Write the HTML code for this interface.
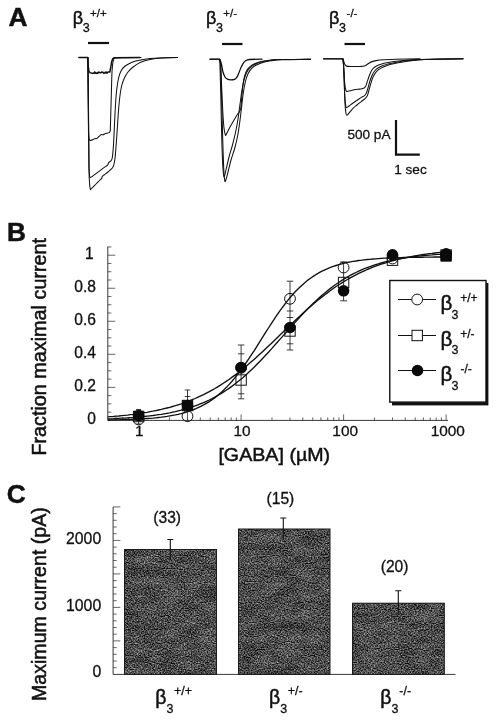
<!DOCTYPE html>
<html lang="en"><head><meta charset="utf-8"><title>Figure</title>
<style>html,body{margin:0;padding:0;background:#fff;}body{width:496px;height:720px;overflow:hidden;}svg{display:block;}text{fill:#111;font-family:"Liberation Sans",sans-serif;}</style>
</head><body>
<svg width="496" height="720" viewBox="0 0 496 720">
<defs>
<filter id="noise" x="0" y="0" width="100%" height="100%" color-interpolation-filters="sRGB"><feTurbulence type="fractalNoise" baseFrequency="0.7 0.85" numOctaves="1" seed="7" result="t1"/><feColorMatrix in="t1" type="matrix" values="1.6 0 0 0 -0.465  1.6 0 0 0 -0.465  1.6 0 0 0 -0.465  0 0 0 0 1" result="fine"/><feTurbulence type="fractalNoise" baseFrequency="0.05 0.09" numOctaves="2" seed="11" result="t2"/><feColorMatrix in="t2" type="matrix" values="0.3 0 0 0 0.35  0.3 0 0 0 0.35  0.3 0 0 0 0.35  0 0 0 0 1" result="coarse"/><feComposite in="fine" in2="coarse" operator="arithmetic" k1="0" k2="1" k3="1" k4="-0.5" result="sum"/><feColorMatrix in="sum" type="matrix" values="0.8 0 0 0 0.03  0 0.8 0 0 0.03  0 0 0.8 0 0.03  0 0 0 0 1" result="g"/><feComposite in="g" in2="SourceGraphic" operator="in"/></filter>
</defs>
<rect width="496" height="720" fill="#fff"/>
<text transform="translate(8.6,25.8) scale(1.03,1.0)" x="0" y="0" class="t" font-size="25.5" font-weight="bold" stroke="#111" stroke-width="0.5">A</text>
<text transform="translate(7.0,240.8) scale(1.03,1.0)" x="0" y="0" class="t" font-size="25.5" font-weight="bold" stroke="#111" stroke-width="0.5">B</text>
<text transform="translate(6.8,502.6) scale(1.03,1.0)" x="0" y="0" class="t" font-size="25.5" font-weight="bold" stroke="#111" stroke-width="0.5">C</text>
<g id="panelA">
<text x="72.85" y="24" class="t" font-size="18" stroke="#111" stroke-width="0.5">β</text><text x="82.75" y="31.60" class="t" font-size="12.5" stroke="#111" stroke-width="0.3">3</text><text x="90.05" y="17.00" class="t" font-size="11.5" stroke="#111" stroke-width="0.3">+/+</text>
<text x="206.10" y="24" class="t" font-size="18" stroke="#111" stroke-width="0.5">β</text><text x="216.00" y="31.60" class="t" font-size="12.5" stroke="#111" stroke-width="0.3">3</text><text x="223.30" y="17.00" class="t" font-size="11.5" stroke="#111" stroke-width="0.3">+/-</text>
<text x="329.10" y="24" class="t" font-size="18" stroke="#111" stroke-width="0.5">β</text><text x="339.00" y="31.60" class="t" font-size="12.5" stroke="#111" stroke-width="0.3">3</text><text x="346.55" y="17.00" class="t" font-size="11.5" stroke="#111" stroke-width="0.3">-/-</text>
<line x1="88" y1="43" x2="109" y2="43" stroke="#111" stroke-width="2.2"/>
<line x1="222" y1="44" x2="242.5" y2="44" stroke="#111" stroke-width="2.2"/>
<line x1="344.5" y1="44" x2="365" y2="44" stroke="#111" stroke-width="2.2"/>
<path d="M79.00,57.50 L87.60,57.50 L88.20,66.00 L89.00,71.50 L90.00,72.60 L90.50,72.90 L91.20,73.09 L91.90,73.17 L92.60,73.41 L93.30,73.08 L94.00,73.38 L94.70,71.95 L95.40,72.64 L96.10,73.41 L96.80,72.94 L97.50,73.34 L98.20,72.08 L98.90,72.65 L99.60,72.29 L100.30,72.77 L101.00,72.82 L101.70,71.92 L102.40,72.25 L103.10,72.35 L103.80,73.37 L104.50,73.13 L105.20,72.16 L105.90,73.18 L106.60,72.12 L107.30,72.89 L108.00,72.10 L108.70,71.90 L109.80,72.00 L110.60,68.00 L111.60,62.00 L112.80,58.60 L114.50,57.70 L140.00,57.60" fill="none" stroke="#111" stroke-width="1.5" stroke-linejoin="round" stroke-linecap="round"/>
<path d="M79.00,57.50 L87.80,57.50 L88.50,132.00 C88.50,132.00 88.80,138.27 89.20,139.60 C89.60,140.93 90.39,140.30 91.00,140.30 C91.61,140.30 92.36,139.87 93.00,139.60 C93.64,139.33 94.44,138.73 95.00,138.60 C95.56,138.47 96.02,138.98 96.50,138.80 C96.98,138.62 97.44,138.01 98.00,137.50 C98.56,136.99 99.44,136.06 100.00,135.60 C100.56,135.14 101.02,134.73 101.50,134.60 C101.98,134.47 102.44,134.93 103.00,134.80 C103.56,134.67 104.36,134.06 105.00,133.80 C105.64,133.54 106.31,133.39 107.00,133.20 C107.69,133.01 108.77,133.03 109.30,132.60 C109.83,132.17 110.30,130.50 110.30,130.50 L111.30,95.00 C111.30,95.00 111.76,77.12 112.00,72.00 C112.24,66.88 112.51,65.05 112.80,63.00 C113.09,60.95 113.37,60.02 113.80,59.20 C114.23,58.38 111.15,58.16 115.50,57.90 C119.85,57.64 141.00,57.60 141.00,57.60" fill="none" stroke="#111" stroke-width="1.05" stroke-linejoin="round" stroke-linecap="round"/>
<path d="M87.90,57.50 L88.90,168.00 C88.90,168.00 89.38,174.46 89.60,176.00 C89.82,177.54 90.30,177.60 90.30,177.60 C90.30,177.60 91.09,177.24 92.00,176.60 C92.91,175.96 94.72,174.56 96.00,173.60 C97.28,172.64 98.72,171.56 100.00,170.60 C101.28,169.64 102.78,168.46 104.00,167.60 C105.22,166.74 106.90,165.94 107.60,165.20 C108.30,164.46 108.14,163.48 108.40,163.00 C108.66,162.52 108.75,162.62 109.20,162.20 C109.65,161.78 110.69,161.23 111.20,160.40 C111.71,159.57 112.02,159.78 112.40,157.00 C112.78,154.22 113.25,148.60 113.60,143.00 C113.95,137.40 114.28,128.40 114.60,122.00 C114.92,115.60 115.25,108.28 115.60,103.00 C115.95,97.72 116.32,93.00 116.80,89.00 C117.28,85.00 117.93,80.88 118.60,78.00 C119.27,75.12 120.06,72.84 121.00,71.00 C121.94,69.16 123.06,67.75 124.50,66.50 C125.94,65.25 128.16,64.08 130.00,63.20 C131.84,62.32 134.08,61.56 136.00,61.00 C137.92,60.44 139.76,60.10 142.00,59.70 C144.24,59.30 147.12,58.79 150.00,58.50 C152.88,58.21 155.60,58.06 160.00,57.90 C164.40,57.74 177.50,57.50 177.50,57.50" fill="none" stroke="#111" stroke-width="1.05" stroke-linejoin="round" stroke-linecap="round"/>
<path d="M88.00,57.50 L89.20,178.00 C89.20,178.00 89.68,185.14 89.90,187.00 C90.12,188.86 90.60,189.60 90.60,189.60 C90.60,189.60 91.14,188.90 92.00,188.00 C92.86,187.10 94.72,185.28 96.00,184.00 C97.28,182.72 99.14,180.86 100.00,180.00 C100.86,179.14 101.02,179.18 101.40,178.60 C101.78,178.02 101.98,176.98 102.40,176.40 C102.82,175.82 103.10,175.70 104.00,175.00 C104.90,174.30 106.88,172.90 108.00,172.00 C109.12,171.10 110.17,170.26 111.00,169.40 C111.83,168.54 112.59,168.10 113.20,166.60 C113.81,165.10 114.35,163.14 114.80,160.00 C115.25,156.86 115.62,151.80 116.00,147.00 C116.38,142.20 116.82,135.60 117.20,130.00 C117.58,124.40 117.98,117.28 118.40,112.00 C118.82,106.72 119.29,101.16 119.80,97.00 C120.31,92.84 120.86,89.04 121.60,86.00 C122.34,82.96 123.38,80.24 124.40,78.00 C125.42,75.76 126.70,73.68 128.00,72.00 C129.30,70.32 130.90,68.84 132.50,67.50 C134.10,66.16 136.16,64.64 138.00,63.60 C139.84,62.56 142.08,61.67 144.00,61.00 C145.92,60.33 147.76,59.85 150.00,59.40 C152.24,58.95 155.12,58.47 158.00,58.20 C160.88,57.93 164.88,57.81 168.00,57.70 C171.12,57.59 177.50,57.50 177.50,57.50" fill="none" stroke="#111" stroke-width="1.05" stroke-linejoin="round" stroke-linecap="round"/>
<path d="M210.00,59.20 L219.00,59.20 C219.00,59.20 219.98,59.57 220.40,60.50 C220.82,61.43 221.18,63.16 221.60,65.00 C222.02,66.84 222.46,70.08 223.00,72.00 C223.54,73.92 224.28,75.85 225.00,77.00 C225.72,78.15 226.54,78.75 227.50,79.20 C228.46,79.65 229.88,79.78 231.00,79.80 C232.12,79.82 233.60,79.65 234.50,79.30 C235.40,78.95 235.94,78.51 236.60,77.60 C237.26,76.69 237.93,75.14 238.60,73.60 C239.27,72.06 240.10,69.60 240.80,68.00 C241.50,66.40 242.23,64.75 243.00,63.60 C243.77,62.45 244.56,61.46 245.60,60.80 C246.64,60.14 246.88,59.76 249.50,59.50 C252.12,59.24 262.00,59.20 262.00,59.20" fill="none" stroke="#111" stroke-width="1.3" stroke-linejoin="round" stroke-linecap="round"/>
<path d="M210.00,59.20 L219.60,59.20 C219.60,59.20 220.28,59.71 220.60,64.00 C220.92,68.29 221.25,78.32 221.60,86.00 C221.95,93.68 222.42,105.28 222.80,112.00 C223.18,118.72 223.58,124.32 224.00,128.00 C224.42,131.68 224.98,134.10 225.40,135.00 C225.82,135.90 225.86,134.88 226.60,133.60 C227.34,132.32 228.82,129.18 230.00,127.00 C231.18,124.82 232.88,121.92 234.00,120.00 C235.12,118.08 236.10,116.38 237.00,115.00 C237.90,113.62 238.99,112.52 239.60,111.40 C240.21,110.28 240.45,110.30 240.80,108.00 C241.15,105.70 241.45,100.68 241.80,97.00 C242.15,93.32 242.55,88.36 243.00,85.00 C243.45,81.64 243.96,78.40 244.60,76.00 C245.24,73.60 246.04,71.57 247.00,70.00 C247.96,68.43 249.32,67.22 250.60,66.20 C251.88,65.18 253.34,64.34 255.00,63.60 C256.66,62.86 258.92,62.11 261.00,61.60 C263.08,61.09 265.28,60.72 268.00,60.40 C270.72,60.08 271.20,59.79 278.00,59.60 C284.80,59.41 310.50,59.20 310.50,59.20" fill="none" stroke="#111" stroke-width="1.05" stroke-linejoin="round" stroke-linecap="round"/>
<path d="M219.20,59.20 C219.20,59.20 219.73,59.47 220.00,66.00 C220.27,72.53 220.61,88.16 220.90,100.00 C221.19,111.84 221.50,129.44 221.80,140.00 C222.10,150.56 222.48,160.21 222.80,166.00 C223.12,171.79 223.50,174.70 223.80,176.20 C224.10,177.70 224.32,176.55 224.70,175.40 C225.08,174.25 225.51,171.94 226.20,169.00 C226.89,166.06 228.04,160.68 229.00,157.00 C229.96,153.32 231.18,149.84 232.20,146.00 C233.22,142.16 234.47,137.32 235.40,133.00 C236.33,128.68 237.28,123.48 238.00,119.00 C238.72,114.52 239.29,109.48 239.90,105.00 C240.51,100.52 241.16,94.94 241.80,91.00 C242.44,87.06 243.13,83.34 243.90,80.40 C244.67,77.46 245.59,74.65 246.60,72.60 C247.61,70.55 248.82,68.94 250.20,67.60 C251.58,66.26 253.31,65.13 255.20,64.20 C257.09,63.27 259.63,62.41 262.00,61.80 C264.37,61.19 266.80,60.75 270.00,60.40 C273.20,60.05 275.52,59.79 282.00,59.60 C288.48,59.41 310.50,59.20 310.50,59.20" fill="none" stroke="#111" stroke-width="1.05" stroke-linejoin="round" stroke-linecap="round"/>
<path d="M219.70,59.20 C219.70,59.20 220.38,59.47 220.70,66.00 C221.02,72.53 221.36,87.84 221.70,100.00 C222.04,112.16 222.46,130.80 222.80,142.00 C223.14,153.20 223.48,163.79 223.80,170.00 C224.12,176.21 224.48,179.17 224.80,180.80 C225.12,182.43 225.32,181.45 225.80,180.20 C226.28,178.95 226.97,176.23 227.80,173.00 C228.63,169.77 229.88,164.00 231.00,160.00 C232.12,156.00 233.73,151.92 234.80,148.00 C235.87,144.08 236.88,139.82 237.70,135.50 C238.52,131.18 239.28,125.56 239.90,121.00 C240.52,116.44 241.06,111.48 241.60,107.00 C242.14,102.52 242.71,97.00 243.30,93.00 C243.89,89.00 244.56,85.04 245.30,82.00 C246.04,78.96 246.91,76.14 247.90,74.00 C248.89,71.86 250.16,70.04 251.50,68.60 C252.84,67.16 254.48,65.99 256.30,65.00 C258.12,64.01 260.58,63.07 262.90,62.40 C265.22,61.73 267.74,61.22 270.80,60.80 C273.86,60.38 275.65,60.06 282.00,59.80 C288.35,59.54 310.50,59.20 310.50,59.20" fill="none" stroke="#111" stroke-width="1.05" stroke-linejoin="round" stroke-linecap="round"/>
<path d="M323.50,58.80 L342.40,58.80 C342.40,58.80 343.05,59.67 343.40,60.50 C343.75,61.33 344.18,63.15 344.60,64.00 C345.02,64.85 345.46,65.42 346.00,65.80 C346.54,66.18 347.04,66.29 348.00,66.40 C348.96,66.51 350.40,66.48 352.00,66.50 C353.60,66.52 356.24,66.53 358.00,66.50 C359.76,66.47 361.72,66.51 363.00,66.30 C364.28,66.09 365.04,65.70 366.00,65.20 C366.96,64.70 368.04,63.78 369.00,63.20 C369.96,62.62 370.88,62.02 372.00,61.60 C373.12,61.18 374.08,60.89 376.00,60.60 C377.92,60.31 380.80,60.02 384.00,59.80 C387.20,59.58 390.24,59.34 396.00,59.20 C401.76,59.06 420.00,58.90 420.00,58.90" fill="none" stroke="#111" stroke-width="1.15" stroke-linejoin="round" stroke-linecap="round"/>
<path d="M323.50,58.80 L342.80,58.80 C342.80,58.80 343.31,62.29 343.60,66.00 C343.89,69.71 344.25,78.16 344.60,82.00 C344.95,85.84 345.42,88.50 345.80,90.00 C346.18,91.50 346.33,91.27 347.00,91.40 C347.67,91.53 348.88,91.06 350.00,90.80 C351.12,90.54 352.72,90.06 354.00,89.80 C355.28,89.54 356.88,89.33 358.00,89.20 C359.12,89.07 360.04,89.19 361.00,89.00 C361.96,88.81 363.26,88.38 364.00,88.00 C364.74,87.62 365.12,87.48 365.60,86.60 C366.08,85.72 366.49,84.04 367.00,82.50 C367.51,80.96 368.19,78.68 368.80,77.00 C369.41,75.32 370.13,73.34 370.80,72.00 C371.47,70.66 372.09,69.56 373.00,68.60 C373.91,67.64 375.22,66.70 376.50,66.00 C377.78,65.30 379.16,64.74 381.00,64.20 C382.84,63.66 385.60,63.06 388.00,62.60 C390.40,62.14 393.12,61.68 396.00,61.30 C398.88,60.92 402.16,60.50 406.00,60.20 C409.84,59.90 410.88,59.62 420.00,59.40 C429.12,59.18 463.00,58.80 463.00,58.80" fill="none" stroke="#111" stroke-width="1.05" stroke-linejoin="round" stroke-linecap="round"/>
<path d="M343.00,58.80 C343.00,58.80 343.51,64.05 343.80,70.00 C344.09,75.95 344.48,90.24 344.80,96.00 C345.12,101.76 345.51,104.14 345.80,106.00 C346.09,107.86 346.09,107.60 346.60,107.60 C347.11,107.60 347.98,106.74 349.00,106.00 C350.02,105.26 351.64,103.96 353.00,103.00 C354.36,102.04 356.22,100.86 357.50,100.00 C358.78,99.14 359.86,98.30 361.00,97.60 C362.14,96.90 363.74,96.34 364.60,95.60 C365.46,94.86 365.86,94.22 366.40,93.00 C366.94,91.78 367.46,89.84 368.00,88.00 C368.54,86.16 369.16,83.50 369.80,81.50 C370.44,79.50 371.23,77.18 372.00,75.50 C372.77,73.82 373.64,72.20 374.60,71.00 C375.56,69.80 376.66,68.86 378.00,68.00 C379.34,67.14 381.24,66.27 383.00,65.60 C384.76,64.93 386.76,64.34 389.00,63.80 C391.24,63.26 393.96,62.71 397.00,62.20 C400.04,61.69 403.68,61.05 408.00,60.60 C412.32,60.15 415.20,59.69 424.00,59.40 C432.80,59.11 463.00,58.80 463.00,58.80" fill="none" stroke="#111" stroke-width="1.05" stroke-linejoin="round" stroke-linecap="round"/>
<path d="M343.10,58.80 C343.10,58.80 343.61,65.09 343.90,72.00 C344.19,78.91 344.58,95.44 344.90,102.00 C345.22,108.56 345.60,110.89 345.90,113.00 C346.20,115.11 346.37,115.10 346.80,115.20 C347.23,115.30 347.69,114.62 348.60,113.60 C349.51,112.58 351.16,110.18 352.50,108.80 C353.84,107.42 355.64,106.12 357.00,105.00 C358.36,103.88 359.72,102.82 361.00,101.80 C362.28,100.78 363.98,99.59 365.00,98.60 C366.02,97.61 366.76,96.98 367.40,95.60 C368.04,94.22 368.46,91.94 369.00,90.00 C369.54,88.06 370.16,85.58 370.80,83.50 C371.44,81.42 372.23,78.74 373.00,77.00 C373.77,75.26 374.64,73.82 375.60,72.60 C376.56,71.38 377.66,70.33 379.00,69.40 C380.34,68.47 382.24,67.57 384.00,66.80 C385.76,66.03 387.76,65.24 390.00,64.60 C392.24,63.96 394.96,63.38 398.00,62.80 C401.04,62.22 404.68,61.51 409.00,61.00 C413.32,60.49 416.36,59.95 425.00,59.60 C433.64,59.25 463.00,58.80 463.00,58.80" fill="none" stroke="#111" stroke-width="1.05" stroke-linejoin="round" stroke-linecap="round"/>
<path d="M396,120 V154.6 H419.8" fill="none" stroke="#111" stroke-width="2.2"/>
<text x="347.4" y="139.2" class="t" font-size="13.6" stroke="#111" stroke-width="0.3">500 pA</text>
<text x="394.2" y="174.4" class="t" font-size="13.6" stroke="#111" stroke-width="0.3">1 sec</text>
</g>
<g id="panelB">
<path d="M107.8,246.5 V420.4 H448" fill="none" stroke="#222" stroke-width="0.9"/>
<path d="M107.8,412.14h3.6M107.8,403.88h3.6M107.8,395.62h3.6M107.8,387.36h7.5M107.8,379.10h3.6M107.8,370.84h3.6M107.8,362.58h3.6M107.8,354.32h7.5M107.8,346.06h3.6M107.8,337.80h3.6M107.8,329.54h3.6M107.8,321.28h7.5M107.8,313.02h3.6M107.8,304.76h3.6M107.8,296.50h3.6M107.8,288.24h7.5M107.8,279.98h3.6M107.8,271.72h3.6M107.8,263.46h3.6M107.8,255.20h7.5M107.8,246.94h3.6" stroke="#333" stroke-width="0.75" fill="none"/>
<text x="93.8" y="258.6" class="t" font-size="15.6" text-anchor="end" stroke="#111" stroke-width="0.3">1</text>
<text x="96.0" y="291.6" class="t" font-size="15.6" text-anchor="end" stroke="#111" stroke-width="0.3">0.8</text>
<text x="96.0" y="324.7" class="t" font-size="15.6" text-anchor="end" stroke="#111" stroke-width="0.3">0.6</text>
<text x="96.0" y="357.7" class="t" font-size="15.6" text-anchor="end" stroke="#111" stroke-width="0.3">0.4</text>
<text x="96.0" y="390.8" class="t" font-size="15.6" text-anchor="end" stroke="#111" stroke-width="0.3">0.2</text>
<text x="96.0" y="423.8" class="t" font-size="15.6" text-anchor="end" stroke="#111" stroke-width="0.3">0</text>
<path d="M115.86,420.4v-3M122.72,420.4v-3M128.67,420.4v-3M133.91,420.4v-3M138.60,420.4v-6M169.46,420.4v-3M187.50,420.4v-3M200.31,420.4v-3M210.24,420.4v-3M218.36,420.4v-3M225.22,420.4v-3M231.17,420.4v-3M236.41,420.4v-3M241.10,420.4v-6M271.96,420.4v-3M290.00,420.4v-3M302.81,420.4v-3M312.74,420.4v-3M320.86,420.4v-3M327.72,420.4v-3M333.67,420.4v-3M338.91,420.4v-3M343.60,420.4v-6M374.46,420.4v-3M392.50,420.4v-3M405.31,420.4v-3M415.24,420.4v-3M423.36,420.4v-3M430.22,420.4v-3M436.17,420.4v-3M441.41,420.4v-3M446.10,420.4v-6" stroke="#333" stroke-width="0.75" fill="none"/>
<text x="139.4" y="436.4" class="t" font-size="15.4" text-anchor="middle" stroke="#111" stroke-width="0.3">1</text>
<text x="242.1" y="436.4" class="t" font-size="15.4" text-anchor="middle" stroke="#111" stroke-width="0.3">10</text>
<text x="345.2" y="436.4" class="t" font-size="15.4" text-anchor="middle" stroke="#111" stroke-width="0.3">100</text>
<text x="447.8" y="436.4" class="t" font-size="15.4" text-anchor="middle" stroke="#111" stroke-width="0.3">1000</text>
<text transform="translate(218.4,461.0) scale(1.024,1)" class="t" font-size="19.2" stroke="#111" stroke-width="0.5">[GABA] (µM)</text>
<text transform="translate(46,455.6) rotate(-90)" class="t" font-size="19.8" stroke="#111" stroke-width="0.5">Fraction maximal current</text>
<path d="M107.7,420.0 L110.6,419.9 L113.4,419.9 L116.2,419.8 L119.0,419.8 L121.8,419.7 L124.7,419.6 L127.5,419.5 L130.3,419.4 L133.1,419.3 L135.9,419.2 L138.8,419.0 L141.6,418.9 L144.4,418.7 L147.2,418.5 L150.0,418.3 L152.9,418.1 L155.7,417.8 L158.5,417.5 L161.3,417.2 L164.1,416.8 L167.0,416.4 L169.8,415.9 L172.6,415.4 L175.4,414.9 L178.2,414.3 L181.1,413.6 L183.9,412.8 L186.7,412.0 L189.5,411.1 L192.3,410.1 L195.2,409.0 L198.0,407.7 L200.8,406.4 L203.6,404.9 L206.4,403.3 L209.3,401.6 L212.1,399.7 L214.9,397.6 L217.7,395.4 L220.5,393.0 L223.3,390.4 L226.2,387.6 L229.0,384.6 L231.8,381.5 L234.6,378.1 L237.4,374.6 L240.3,370.9 L243.1,367.0 L245.9,363.0 L248.7,358.9 L251.5,354.6 L254.4,350.3 L257.2,345.9 L260.0,341.4 L262.8,336.9 L265.6,332.4 L268.5,328.0 L271.3,323.6 L274.1,319.4 L276.9,315.2 L279.7,311.1 L282.6,307.2 L285.4,303.5 L288.2,299.9 L291.0,296.5 L293.8,293.3 L296.7,290.3 L299.5,287.5 L302.3,284.9 L305.1,282.4 L307.9,280.1 L310.8,278.0 L313.6,276.1 L316.4,274.3 L319.2,272.7 L322.0,271.2 L324.9,269.8 L327.7,268.6 L330.5,267.4 L333.3,266.4 L336.1,265.5 L339.0,264.6 L341.8,263.8 L344.6,263.1 L347.4,262.5 L350.2,261.9 L353.1,261.4 L355.9,261.0 L358.7,260.5 L361.5,260.2 L364.3,259.8 L367.2,259.5 L370.0,259.3 L372.8,259.0 L375.6,258.8 L378.4,258.6 L381.2,258.4 L384.1,258.2 L386.9,258.1 L389.7,258.0 L392.5,257.9 L395.3,257.8 L398.2,257.7 L401.0,257.6 L403.8,257.5 L406.6,257.4 L409.4,257.4 L412.3,257.3 L415.1,257.3 L417.9,257.2 L420.7,257.2 L423.5,257.2 L426.4,257.1 L429.2,257.1 L432.0,257.1 L434.8,257.0 L437.6,257.0 L440.5,257.0 L443.3,257.0 L446.1,257.0" fill="none" stroke="#111" stroke-width="1.35" stroke-linejoin="round"/>
<path d="M107.7,418.9 L110.6,418.8 L113.4,418.7 L116.2,418.5 L119.0,418.4 L121.8,418.2 L124.7,418.1 L127.5,417.9 L130.3,417.7 L133.1,417.5 L135.9,417.2 L138.8,417.0 L141.6,416.7 L144.4,416.5 L147.2,416.1 L150.0,415.8 L152.9,415.5 L155.7,415.1 L158.5,414.7 L161.3,414.3 L164.1,413.8 L167.0,413.3 L169.8,412.8 L172.6,412.2 L175.4,411.6 L178.2,410.9 L181.1,410.2 L183.9,409.4 L186.7,408.6 L189.5,407.8 L192.3,406.9 L195.2,405.9 L198.0,404.8 L200.8,403.7 L203.6,402.6 L206.4,401.3 L209.3,400.0 L212.1,398.6 L214.9,397.1 L217.7,395.5 L220.5,393.9 L223.3,392.1 L226.2,390.3 L229.0,388.4 L231.8,386.4 L234.6,384.2 L237.4,382.0 L240.3,379.7 L243.1,377.4 L245.9,374.9 L248.7,372.3 L251.5,369.7 L254.4,366.9 L257.2,364.1 L260.0,361.2 L262.8,358.3 L265.6,355.3 L268.5,352.2 L271.3,349.1 L274.1,345.9 L276.9,342.8 L279.7,339.6 L282.6,336.4 L285.4,333.2 L288.2,330.0 L291.0,326.8 L293.8,323.7 L296.7,320.6 L299.5,317.5 L302.3,314.5 L305.1,311.5 L307.9,308.6 L310.8,305.8 L313.6,303.0 L316.4,300.4 L319.2,297.8 L322.0,295.3 L324.9,292.9 L327.7,290.6 L330.5,288.4 L333.3,286.2 L336.1,284.2 L339.0,282.3 L341.8,280.4 L344.6,278.7 L347.4,277.0 L350.2,275.4 L353.1,273.9 L355.9,272.5 L358.7,271.2 L361.5,269.9 L364.3,268.7 L367.2,267.6 L370.0,266.6 L372.8,265.6 L375.6,264.6 L378.4,263.8 L381.2,263.0 L384.1,262.2 L386.9,261.5 L389.7,260.8 L392.5,260.2 L395.3,259.6 L398.2,259.1 L401.0,258.6 L403.8,258.1 L406.6,257.7 L409.4,257.3 L412.3,256.9 L415.1,256.5 L417.9,256.2 L420.7,255.9 L423.5,255.6 L426.4,255.3 L429.2,255.1 L432.0,254.9 L434.8,254.6 L437.6,254.4 L440.5,254.3 L443.3,254.1 L446.1,253.9" fill="none" stroke="#111" stroke-width="1.35" stroke-linejoin="round"/>
<path d="M107.7,416.9 L110.6,416.7 L113.4,416.5 L116.2,416.2 L119.0,416.0 L121.8,415.7 L124.7,415.4 L127.5,415.1 L130.3,414.7 L133.1,414.4 L135.9,414.0 L138.8,413.6 L141.6,413.2 L144.4,412.7 L147.2,412.3 L150.0,411.7 L152.9,411.2 L155.7,410.6 L158.5,410.0 L161.3,409.4 L164.1,408.7 L167.0,408.0 L169.8,407.3 L172.6,406.5 L175.4,405.7 L178.2,404.8 L181.1,403.9 L183.9,402.9 L186.7,401.9 L189.5,400.8 L192.3,399.7 L195.2,398.5 L198.0,397.2 L200.8,395.9 L203.6,394.6 L206.4,393.2 L209.3,391.7 L212.1,390.1 L214.9,388.5 L217.7,386.8 L220.5,385.1 L223.3,383.3 L226.2,381.4 L229.0,379.5 L231.8,377.4 L234.6,375.4 L237.4,373.2 L240.3,371.0 L243.1,368.8 L245.9,366.4 L248.7,364.1 L251.5,361.6 L254.4,359.2 L257.2,356.6 L260.0,354.1 L262.8,351.5 L265.6,348.8 L268.5,346.1 L271.3,343.5 L274.1,340.7 L276.9,338.0 L279.7,335.3 L282.6,332.6 L285.4,329.8 L288.2,327.1 L291.0,324.4 L293.8,321.7 L296.7,319.0 L299.5,316.4 L302.3,313.8 L305.1,311.2 L307.9,308.7 L310.8,306.3 L313.6,303.8 L316.4,301.5 L319.2,299.1 L322.0,296.9 L324.9,294.7 L327.7,292.6 L330.5,290.5 L333.3,288.5 L336.1,286.5 L339.0,284.7 L341.8,282.9 L344.6,281.1 L347.4,279.5 L350.2,277.9 L353.1,276.3 L355.9,274.8 L358.7,273.4 L361.5,272.1 L364.3,270.8 L367.2,269.5 L370.0,268.4 L372.8,267.2 L375.6,266.2 L378.4,265.2 L381.2,264.2 L384.1,263.3 L386.9,262.4 L389.7,261.6 L392.5,260.8 L395.3,260.1 L398.2,259.3 L401.0,258.7 L403.8,258.1 L406.6,257.5 L409.4,256.9 L412.3,256.4 L415.1,255.9 L417.9,255.4 L420.7,254.9 L423.5,254.5 L426.4,254.1 L429.2,253.7 L432.0,253.4 L434.8,253.0 L437.6,252.7 L440.5,252.4 L443.3,252.2 L446.1,251.9" fill="none" stroke="#111" stroke-width="1.35" stroke-linejoin="round"/>
<path d="M138.60,409.50V424.00M136.10,409.50h5M136.10,424.00h5" stroke="#1a1a1a" stroke-width="0.85" fill="none"/>
<path d="M187.50,390.00V410.00M184.75,390.00h5.5M184.75,410.00h5.5M184.75,396.50h5.5" stroke="#1a1a1a" stroke-width="0.85" fill="none"/>
<path d="M187.50,410V421.5" stroke="#333" stroke-width="0.8"/>
<path d="M241.10,345.00V398.80M237.85,345.00h6.5M237.85,398.80h6.5M237.85,353.80h6.5M237.85,393.80h6.5" stroke="#1a1a1a" stroke-width="0.85" fill="none"/>
<path d="M290.00,281.20V350.00M286.75,281.20h6.5M286.75,350.00h6.5M286.75,311.00h6.5M286.75,317.50h6.5M286.75,343.80h6.5" stroke="#1a1a1a" stroke-width="0.85" fill="none"/>
<path d="M343.60,262.00V300.80M340.10,262.00h7M340.10,300.80h7" stroke="#1a1a1a" stroke-width="0.85" fill="none"/>
<circle cx="138.60" cy="419.50" r="5.4" fill="none" stroke="#111" stroke-width="1"/>
<circle cx="187.50" cy="416.20" r="5.4" fill="none" stroke="#111" stroke-width="1"/>
<circle cx="241.10" cy="367.80" r="5.4" fill="none" stroke="#111" stroke-width="1"/>
<circle cx="290.00" cy="298.80" r="5.4" fill="none" stroke="#111" stroke-width="1"/>
<circle cx="343.60" cy="267.50" r="5.4" fill="none" stroke="#111" stroke-width="1"/>
<circle cx="392.50" cy="258.50" r="5.4" fill="none" stroke="#111" stroke-width="1"/>
<circle cx="446.10" cy="255.00" r="5.4" fill="none" stroke="#111" stroke-width="1"/>
<rect x="133.40" y="411.30" width="10.4" height="10.4" fill="none" stroke="#111" stroke-width="1"/>
<rect x="182.30" y="400.30" width="10.4" height="10.4" fill="none" stroke="#111" stroke-width="1"/>
<rect x="235.90" y="374.80" width="10.4" height="10.4" fill="none" stroke="#111" stroke-width="1"/>
<rect x="284.80" y="325.80" width="10.4" height="10.4" fill="none" stroke="#111" stroke-width="1"/>
<rect x="338.40" y="277.30" width="10.4" height="10.4" fill="none" stroke="#111" stroke-width="1"/>
<rect x="387.30" y="255.00" width="10.4" height="10.4" fill="none" stroke="#111" stroke-width="1"/>
<rect x="440.90" y="249.80" width="10.4" height="10.4" fill="none" stroke="#111" stroke-width="1"/>
<circle cx="138.60" cy="415.50" r="5.8" fill="#0a0a0a"/>
<circle cx="187.50" cy="405.50" r="5.8" fill="#0a0a0a"/>
<circle cx="241.10" cy="367.50" r="5.8" fill="#0a0a0a"/>
<circle cx="290.00" cy="327.50" r="5.8" fill="#0a0a0a"/>
<circle cx="343.60" cy="290.80" r="5.8" fill="#0a0a0a"/>
<circle cx="392.50" cy="254.80" r="5.8" fill="#0a0a0a"/>
<circle cx="446.10" cy="255.00" r="5.8" fill="#0a0a0a"/>
<rect x="182.30" y="400.30" width="10.4" height="10.4" fill="#0a0a0a"/>
<rect x="134.00" y="410.90" width="9.2" height="9.2" fill="#0a0a0a"/>
<rect x="440.60" y="250.70" width="11.0" height="11.0" fill="#0a0a0a"/>
<circle cx="446.10" cy="253.60" r="5.6" fill="#0a0a0a"/>
<rect x="392" y="283" width="96.4" height="122.4" fill="#111"/>
<rect x="389.8" y="280.5" width="96.2" height="121.6" fill="#fff" stroke="#111" stroke-width="1.4"/>
<line x1="398" y1="299.5" x2="436" y2="299.5" stroke="#111" stroke-width="1"/>
<line x1="398" y1="335.5" x2="436" y2="335.5" stroke="#111" stroke-width="1"/>
<line x1="398" y1="370.5" x2="436" y2="370.5" stroke="#111" stroke-width="1"/>
<circle cx="417.2" cy="299.5" r="5.4" fill="#fff" stroke="#111" stroke-width="1"/>
<rect x="412" y="330.3" width="10.4" height="10.4" fill="#fff" stroke="#111" stroke-width="1"/>
<circle cx="417.5" cy="370.5" r="5.8" fill="#0a0a0a"/>
<text x="440.48" y="310.4" class="t" font-size="20.5" stroke="#111" stroke-width="0.5">β</text><text x="451.60" y="318.70" class="t" font-size="12.5" stroke="#111" stroke-width="0.3">3</text><text x="460.20" y="302.10" class="t" font-size="12" stroke="#111" stroke-width="0.3">+/+</text>
<text x="440.48" y="345.9" class="t" font-size="20.5" stroke="#111" stroke-width="0.5">β</text><text x="451.60" y="354.20" class="t" font-size="12.5" stroke="#111" stroke-width="0.3">3</text><text x="460.20" y="337.60" class="t" font-size="12" stroke="#111" stroke-width="0.3">+/-</text>
<text x="440.48" y="381.4" class="t" font-size="20.5" stroke="#111" stroke-width="0.5">β</text><text x="451.60" y="389.70" class="t" font-size="12.5" stroke="#111" stroke-width="0.3">3</text><text x="460.45" y="373.10" class="t" font-size="12" stroke="#111" stroke-width="0.3">-/-</text>
</g>
<g id="panelC">
<path d="M113.1,507 V674.4 H455.5" fill="none" stroke="#222" stroke-width="0.9"/>
<path d="M113.1,667.70h3.6M113.1,661.00h3.6M113.1,654.30h3.6M113.1,647.60h3.6M113.1,640.90h7.2M113.1,634.20h3.6M113.1,627.50h3.6M113.1,620.80h3.6M113.1,614.10h3.6M113.1,607.40h7.2M113.1,600.70h3.6M113.1,594.00h3.6M113.1,587.30h3.6M113.1,580.60h3.6M113.1,573.90h7.2M113.1,567.20h3.6M113.1,560.50h3.6M113.1,553.80h3.6M113.1,547.10h3.6M113.1,540.40h7.2M113.1,533.70h3.6M113.1,527.00h3.6M113.1,520.30h3.6M113.1,513.60h3.6M113.1,506.90h7.2" stroke="#333" stroke-width="0.75" fill="none"/>
<text x="101.2" y="677.3" class="t" font-size="15.8" text-anchor="end" stroke="#111" stroke-width="0.3">0</text>
<text x="101.2" y="611.2" class="t" font-size="15.8" text-anchor="end" stroke="#111" stroke-width="0.3">1000</text>
<text x="101.2" y="544.2" class="t" font-size="15.8" text-anchor="end" stroke="#111" stroke-width="0.3">2000</text>
<text transform="translate(46.3,701) rotate(-90)" class="t" font-size="19.6" stroke="#111" stroke-width="0.5">Maximum current (pA)</text>
<rect x="124.5" y="549.5" width="92.0" height="124.9" fill="#555"/>
<rect x="124.5" y="549.5" width="92.0" height="124.9" fill="#555" filter="url(#noise)"/>
<rect x="124.5" y="549.5" width="92.0" height="124.9" fill="none" stroke="#1c1c1c" stroke-width="1"/>
<path d="M170.3,539.5V560M167.3,539.5h6" stroke="#111" stroke-width="1.1" fill="none"/>
<text x="167.2" y="522.8" class="t" font-size="15.6" text-anchor="middle" stroke="#111" stroke-width="0.3">(33)</text>
<rect x="238.5" y="529" width="91.5" height="145.4" fill="#555"/>
<rect x="238.5" y="529" width="91.5" height="145.4" fill="#555" filter="url(#noise)"/>
<rect x="238.5" y="529" width="91.5" height="145.4" fill="none" stroke="#1c1c1c" stroke-width="1"/>
<path d="M283.3,518V539.5M280.3,518h6" stroke="#111" stroke-width="1.1" fill="none"/>
<text x="280.4" y="503.6" class="t" font-size="15.6" text-anchor="middle" stroke="#111" stroke-width="0.3">(15)</text>
<rect x="352.5" y="603.2" width="91.80000000000001" height="71.2" fill="#555"/>
<rect x="352.5" y="603.2" width="91.80000000000001" height="71.2" fill="#555" filter="url(#noise)"/>
<rect x="352.5" y="603.2" width="91.80000000000001" height="71.2" fill="none" stroke="#1c1c1c" stroke-width="1"/>
<path d="M398.3,590.8V615M395.3,590.8h6" stroke="#111" stroke-width="1.1" fill="none"/>
<text x="394.6" y="572" class="t" font-size="15.6" text-anchor="middle" stroke="#111" stroke-width="0.3">(20)</text>
<text x="155.28" y="703.5" class="t" font-size="19.4" stroke="#111" stroke-width="0.5">β</text><text x="166.50" y="712.50" class="t" font-size="12.5" stroke="#111" stroke-width="0.3">3</text><text x="174.05" y="694.70" class="t" font-size="12.5" stroke="#111" stroke-width="0.3">+/+</text>
<text x="269.03" y="703.5" class="t" font-size="19.4" stroke="#111" stroke-width="0.5">β</text><text x="280.25" y="712.50" class="t" font-size="12.5" stroke="#111" stroke-width="0.3">3</text><text x="287.80" y="694.70" class="t" font-size="12.5" stroke="#111" stroke-width="0.3">+/-</text>
<text x="380.28" y="703.5" class="t" font-size="19.4" stroke="#111" stroke-width="0.5">β</text><text x="391.50" y="712.50" class="t" font-size="12.5" stroke="#111" stroke-width="0.3">3</text><text x="399.30" y="694.70" class="t" font-size="12.5" stroke="#111" stroke-width="0.3">-/-</text>
</g>
</svg>
</body></html>
